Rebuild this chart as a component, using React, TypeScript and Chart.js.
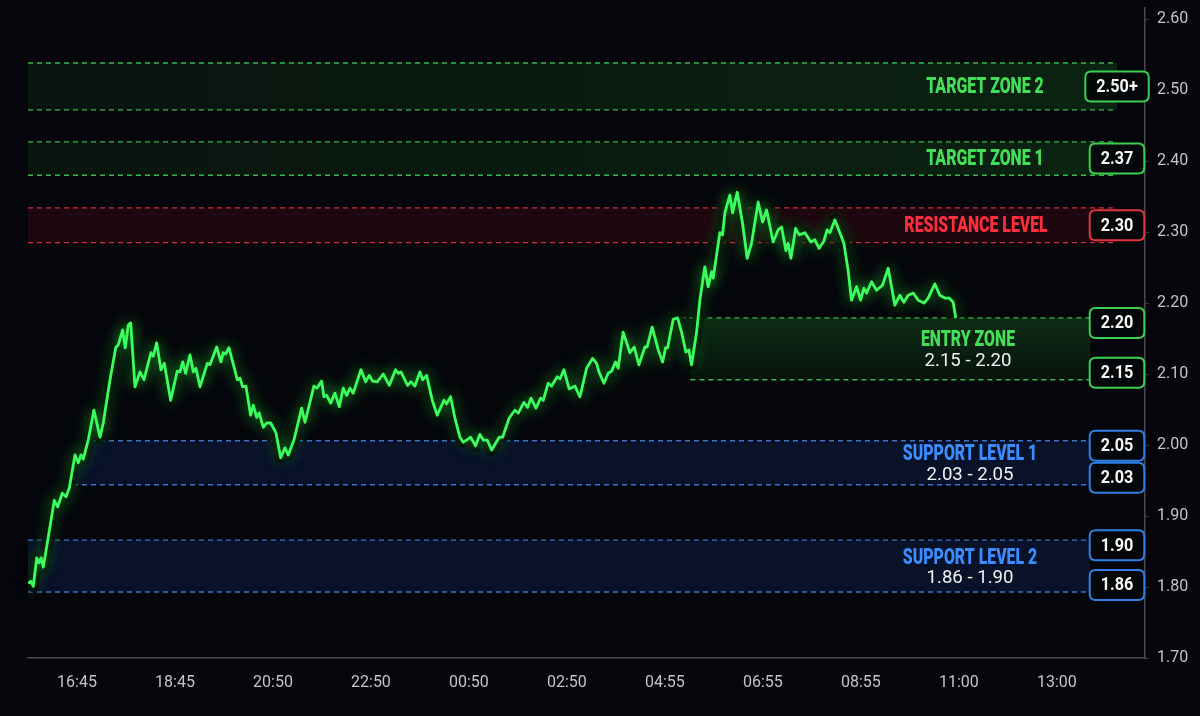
import React, { useEffect, useRef } from "react";
import { Chart, registerables } from "chart.js";

Chart.register(...registerables);

// ---------- DATA ----------
const timeLabels = ["16:45", "18:45", "20:50", "22:50", "00:50", "02:50", "04:55", "06:55", "08:55", "11:00", "13:00"];
const yTickValues = [1.7, 1.8, 1.9, 2.0, 2.1, 2.2, 2.3, 2.4, 2.5, 2.6];

// x position in time-label units (0 = 16:45, 1 = 18:45, ...)
const positions = [-0.497,-0.472,-0.446,-0.411,-0.388,-0.367,-0.344,-0.293,-0.232,-0.197,-0.150,-0.112,-0.079,-0.020,0.013,0.041,0.064,0.115,0.173,0.235,0.268,0.337,0.395,0.421,0.466,0.493,0.523,0.548,0.592,0.643,0.684,0.755,0.779,0.813,0.857,0.891,0.956,1.023,1.051,1.079,1.109,1.153,1.187,1.214,1.255,1.330,1.357,1.426,1.469,1.493,1.517,1.551,1.636,1.663,1.691,1.724,1.772,1.799,1.834,1.860,1.901,1.936,1.977,2.031,2.079,2.122,2.156,2.214,2.293,2.327,2.418,2.449,2.497,2.520,2.548,2.589,2.633,2.677,2.717,2.752,2.786,2.819,2.898,2.946,2.983,3.017,3.064,3.126,3.187,3.252,3.279,3.306,3.374,3.408,3.449,3.500,3.528,3.568,3.626,3.677,3.745,3.772,3.813,3.857,3.908,3.942,3.977,4.017,4.068,4.112,4.146,4.187,4.232,4.309,4.344,4.411,4.469,4.503,4.561,4.599,4.633,4.684,4.732,4.758,4.809,4.844,4.901,4.929,4.969,5.023,5.082,5.133,5.201,5.262,5.303,5.327,5.378,5.421,5.456,5.497,5.523,5.574,5.643,5.687,5.735,5.796,5.819,5.870,5.932,5.977,6.007,6.028,6.085,6.130,6.170,6.214,6.245,6.272,6.323,6.357,6.408,6.442,6.477,6.493,6.561,6.589,6.612,6.663,6.691,6.738,6.793,6.840,6.884,6.952,6.997,7.038,7.105,7.156,7.191,7.235,7.258,7.286,7.334,7.371,7.429,7.490,7.531,7.574,7.622,7.656,7.684,7.735,7.827,7.870,7.905,7.956,7.997,8.031,8.058,8.109,8.160,8.221,8.279,8.347,8.398,8.439,8.483,8.534,8.585,8.646,8.687,8.755,8.806,8.857,8.901,8.942,8.969];

const prices = [1.805,1.808,1.801,1.841,1.834,1.841,1.828,1.870,1.922,1.913,1.932,1.927,1.939,1.986,1.975,1.986,1.980,2.007,2.049,2.011,2.031,2.092,2.137,2.141,2.162,2.137,2.169,2.172,2.082,2.103,2.092,2.130,2.125,2.144,2.106,2.115,2.063,2.104,2.103,2.117,2.101,2.127,2.103,2.108,2.082,2.115,2.113,2.138,2.117,2.130,2.128,2.137,2.092,2.094,2.082,2.083,2.042,2.056,2.039,2.045,2.025,2.031,2.031,2.017,1.982,1.996,1.986,2.007,2.052,2.032,2.083,2.080,2.090,2.068,2.070,2.059,2.073,2.054,2.080,2.070,2.080,2.073,2.106,2.089,2.098,2.090,2.089,2.100,2.084,2.106,2.101,2.103,2.084,2.089,2.083,2.103,2.092,2.098,2.063,2.042,2.063,2.058,2.068,2.038,2.011,2.004,2.007,2.011,1.999,2.015,2.007,2.007,1.993,2.011,2.011,2.038,2.049,2.045,2.060,2.053,2.066,2.052,2.066,2.063,2.087,2.083,2.096,2.093,2.106,2.079,2.083,2.068,2.108,2.122,2.115,2.103,2.087,2.101,2.104,2.117,2.108,2.159,2.130,2.138,2.113,2.138,2.138,2.166,2.134,2.117,2.137,2.137,2.177,2.179,2.159,2.131,2.134,2.113,2.158,2.204,2.251,2.223,2.244,2.235,2.299,2.296,2.327,2.352,2.327,2.356,2.312,2.263,2.284,2.342,2.314,2.331,2.286,2.303,2.307,2.274,2.284,2.263,2.305,2.296,2.299,2.286,2.289,2.277,2.287,2.303,2.299,2.317,2.284,2.246,2.204,2.223,2.204,2.221,2.214,2.230,2.218,2.225,2.249,2.197,2.211,2.201,2.211,2.214,2.204,2.200,2.207,2.227,2.211,2.207,2.207,2.201,2.179];

// zones (drawn in the axis' value space)
const zoneNames = ["TARGET ZONE 2", "TARGET ZONE 1", "RESISTANCE LEVEL", "ENTRY ZONE", "SUPPORT LEVEL 1", "SUPPORT LEVEL 2"];
const zoneRangeText = ["", "", "", "2.15 - 2.20", "2.03 - 2.05", "1.86 - 1.90"];
const zoneUpper = [2.538, 2.427, 2.334, 2.179, 2.006, 1.866];
const zoneLower = [2.472, 2.38, 2.285, 2.092, 1.944, 1.793];
const zoneStartX = [-0.5, -0.5, -0.5, 6.26, -0.5, -0.5];
const zoneBoxUpper = ["2.50+", "2.37", "2.30", "2.20", "2.05", "1.90"];
const zoneBoxLower = ["", "", "", "2.15", "2.03", "1.86"];
const zoneKind = ["green", "green", "red", "entry", "blue", "blue"];

// ---------- STYLE ----------
const palette: Record<string, any> = {
  green: { fill: "rgba(25,105,35,0.20)", dash: "rgba(60,205,75,0.9)", title: "#43df58", box: "#3ccf4e" },
  entry: { fill: "rgba(25,110,35,0.30)", dash: "rgba(60,205,75,0.9)", title: "#43df58", box: "#3ccf4e" },
  red: { fill: "rgba(120,18,30,0.22)", dash: "rgba(232,50,60,0.9)", title: "#ff2e3c", box: "#e0353d" },
  blue: { fill: "rgba(30,70,170,0.20)", dash: "rgba(60,130,225,0.9)", title: "#3a8cff", box: "#2f80e6" },
};
const titleCenterX = [985, 985, 976, 968, 970, 970];
const clipBelowLine = [false, false, false, false, true, false];
const lineEndOffset = [28, 28, 28, 55, 55, 55]; // px left of plot right edge
const BG = "#05060b";
const FONT = "Roboto, 'Noto Sans', 'DejaVu Sans', sans-serif";

function scaledText(ctx: CanvasRenderingContext2D, text: string, x: number, y: number, font: string, color: string, sx: number) {
  ctx.save();
  ctx.font = font;
  ctx.fillStyle = color;
  ctx.textAlign = "center";
  ctx.textBaseline = "middle";
  ctx.translate(x, y);
  ctx.scale(sx, 1);
  ctx.fillText(text, 0, 0);
  ctx.restore();
}

function roundRect(ctx: CanvasRenderingContext2D, x: number, y: number, w: number, h: number, r: number) {
  ctx.beginPath();
  ctx.moveTo(x + r, y);
  ctx.lineTo(x + w - r, y);
  ctx.quadraticCurveTo(x + w, y, x + w, y + r);
  ctx.lineTo(x + w, y + h - r);
  ctx.quadraticCurveTo(x + w, y + h, x + w - r, y + h);
  ctx.lineTo(x + r, y + h);
  ctx.quadraticCurveTo(x, y + h, x, y + h - r);
  ctx.lineTo(x, y + r);
  ctx.quadraticCurveTo(x, y, x + r, y);
  ctx.closePath();
}

function drawBox(ctx: CanvasRenderingContext2D, text: string, cx: number, cy: number, stroke: string) {
  ctx.save();
  ctx.font = `bold 18px ${FONT}`;
  const tw = ctx.measureText(text).width * 0.9;
  const w = Math.max(52, tw + 22);
  const h = 30;
  roundRect(ctx, cx - w / 2, cy - h / 2, w, h, 6);
  ctx.fillStyle = "rgba(4,8,10,0.92)";
  ctx.fill();
  ctx.lineWidth = 2;
  ctx.strokeStyle = stroke;
  ctx.stroke();
  ctx.restore();
  scaledText(ctx, text, cx, cy + 1, `bold 18px ${FONT}`, "#f4f6f4", 0.9);
}

const zonesPlugin = {
  id: "zones",
  beforeDatasetsDraw(chart: any) {
    const { ctx, chartArea, scales } = chart;
    const ys = scales.y;
    const xs = scales.x;
    const pts = chart.getDatasetMeta(0).data;
    for (let i = 0; i < zoneNames.length; i++) {
      const pal = palette[zoneKind[i]];
      const yTop = ys.getPixelForValue(zoneUpper[i]);
      const yBot = ys.getPixelForValue(zoneLower[i]);
      const x0 = Math.max(chartArea.left, xs.getPixelForValue(zoneStartX[i]));
      const x1 = chartArea.right - lineEndOffset[i];
      ctx.save();
      if (clipBelowLine[i] && pts.length) {
        ctx.beginPath();
        ctx.moveTo(pts[0].x, chartArea.bottom);
        for (const p of pts) ctx.lineTo(p.x, p.y);
        ctx.lineTo(chartArea.right + 20, pts[pts.length - 1].y);
        ctx.lineTo(chartArea.right + 20, chartArea.bottom);
        ctx.closePath();
        ctx.clip();
      }
      let fill: any = pal.fill;
      if (zoneKind[i] === "entry") {
        const g = ctx.createLinearGradient(0, yTop, 0, yBot);
        g.addColorStop(0, "rgba(30,120,40,0.34)");
        g.addColorStop(1, "rgba(25,100,35,0.16)");
        fill = g;
      } else if (zoneKind[i] === "green") {
        const g = ctx.createLinearGradient(x0, 0, x1, 0);
        g.addColorStop(0, "rgba(25,100,35,0.16)");
        g.addColorStop(1, "rgba(30,120,40,0.26)");
        fill = g;
      }
      ctx.fillStyle = fill;
      ctx.fillRect(x0, yTop, x1 - x0, yBot - yTop);
      ctx.setLineDash([5, 4]);
      ctx.lineWidth = 1.4;
      ctx.strokeStyle = pal.dash;
      ctx.beginPath();
      ctx.moveTo(zoneKind[i] === "entry" ? x0 - 10 : x0, yTop);
      ctx.lineTo(x1, yTop);
      ctx.moveTo(x0, yBot);
      ctx.lineTo(x1, yBot);
      ctx.stroke();
      ctx.restore();
    }
  },
  beforeDatasetDraw(chart: any) {
    const { ctx } = chart;
    const pts = chart.getDatasetMeta(0).data;
    ctx.save();
    ctx.beginPath();
    pts.forEach((p: any, i: number) => (i ? ctx.lineTo(p.x, p.y) : ctx.moveTo(p.x, p.y)));
    ctx.lineJoin = "round";
    ctx.strokeStyle = "rgba(0,0,0,0.75)";
    ctx.lineWidth = 12;
    ctx.shadowColor = "rgba(0,0,0,0.9)";
    ctx.shadowBlur = 10;
    ctx.stroke();
    ctx.restore();
    ctx.save();
    ctx.shadowColor = "rgba(50,255,90,0.8)";
    ctx.shadowBlur = 14;
  },
  afterDatasetDraw(chart: any) {
    chart.ctx.restore();
  },
  afterDatasetsDraw(chart: any) {
    const { ctx, scales, chartArea } = chart;
    const ys = scales.y;
    const boxCx = chartArea.right - 28;
    for (let i = 0; i < zoneNames.length; i++) {
      const pal = palette[zoneKind[i]];
      const yTop = ys.getPixelForValue(zoneUpper[i]);
      const yBot = ys.getPixelForValue(zoneLower[i]);
      const mid = (yTop + yBot) / 2;
      if (zoneRangeText[i]) {
        scaledText(ctx, zoneNames[i], titleCenterX[i], mid - 8, `900 22px ${FONT}`, pal.title, 0.72);
        scaledText(ctx, zoneRangeText[i], titleCenterX[i], mid + 12, `19px ${FONT}`, "#f0f0f0", 0.98);
      } else {
        scaledText(ctx, zoneNames[i], titleCenterX[i], mid + 1, `900 22px ${FONT}`, pal.title, 0.72);
      }
      if (zoneBoxLower[i]) {
        drawBox(ctx, zoneBoxUpper[i], boxCx, yTop + 5, pal.box);
        drawBox(ctx, zoneBoxLower[i], boxCx, yBot - 7, pal.box);
      } else {
        drawBox(ctx, zoneBoxUpper[i], boxCx, mid, pal.box);
      }
    }
  },
};

export default function App() {
  const ref = useRef<HTMLCanvasElement | null>(null);
  useEffect(() => {
    if (!ref.current) return;
    const n = Math.min(positions.length, prices.length);
    const data = [];
    for (let i = 0; i < n; i++) data.push({ x: positions[i], y: prices[i] });
    const chart = new Chart(ref.current, {
      type: "line",
      data: {
        datasets: [
          {
            data,
            borderColor: "#3dff5e",
            borderWidth: 2.8,
            pointRadius: 0,
            tension: 0,
            borderJoinStyle: "round",
            fill: false,
          } as any,
        ],
      },
      options: {
        animation: false,
        responsive: false,
        layout: { padding: { left: 28, top: 8, right: 0, bottom: 0 } },
        plugins: { legend: { display: false }, tooltip: { enabled: false } },
        scales: {
          x: {
            type: "linear",
            min: -0.5,
            max: 10.9,
            afterBuildTicks: (s: any) => {
              s.ticks = timeLabels.map((_, i) => ({ value: i }));
            },
            afterFit: (s: any) => {
              s.height = 58;
              s.paddingLeft = 0;
              s.paddingRight = 0;
            },
            grid: { display: false, drawTicks: false },
            border: { display: true, color: "#4a4a4e", width: 1.5 },
            ticks: {
              autoSkip: false,
              maxRotation: 0,
              padding: 15,
              color: "#c4c4c6",
              font: { family: FONT, size: 16 },
              callback: (v: any) => timeLabels[Math.round(v)] ?? "",
            },
          },
          y: {
            type: "linear",
            position: "right",
            min: 1.7,
            max: 2.6155,
            afterBuildTicks: (s: any) => {
              s.ticks = yTickValues.map((v) => ({ value: v }));
            },
            afterFit: (s: any) => {
              s.width = 55;
              s.paddingTop = 0;
              s.paddingBottom = 0;
            },
            grid: { display: true, drawOnChartArea: false, drawTicks: true, tickLength: 4, color: "#3a3a3e" },
            border: { display: true, color: "#4a4a4e", width: 1.5 },
            ticks: {
              padding: 8,
              color: "#c4c4c6",
              font: { family: FONT, size: 16 },
              callback: (v: any) => Number(v).toFixed(2),
            },
          },
        },
      },
      plugins: [zonesPlugin as any],
    });
    return () => chart.destroy();
  }, []);

  return (
    <div style={{ position: "fixed", left: 0, top: 0, width: 1200, height: 716, background: BG }}>
      <canvas ref={ref} width={1200} height={716} style={{ display: "block", width: 1200, height: 716 }} />
    </div>
  );
}
